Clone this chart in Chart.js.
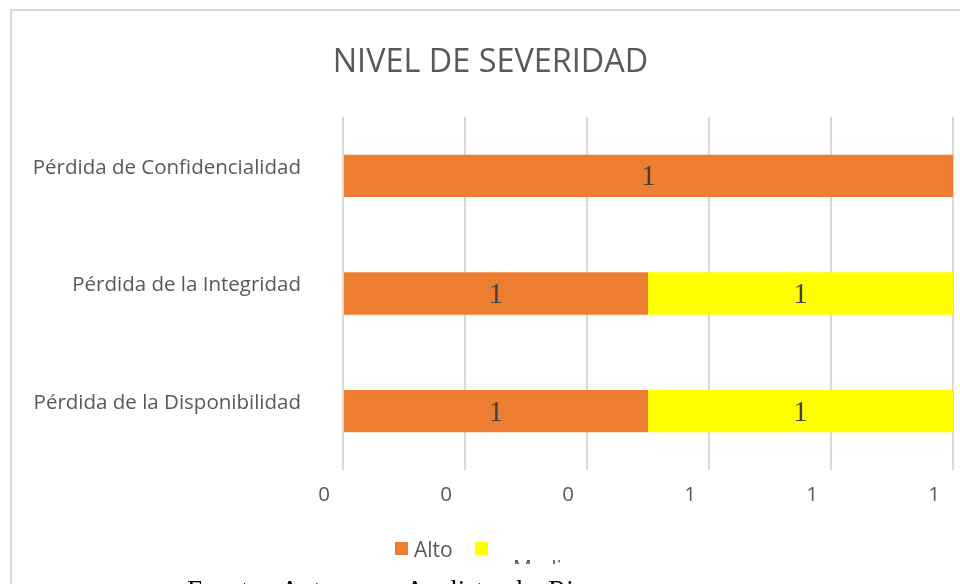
<!DOCTYPE html>
<html>
<head>
<meta charset="utf-8">
<script src="https://cdn.jsdelivr.net/npm/chart.js@4/dist/chart.umd.min.js"></script>
<style>
  html, body { margin: 0; padding: 0; width: 960px; height: 584px; overflow: hidden; background: #fff; }
  #wrap { position: absolute; left: 0; top: 0; width: 981px; height: 584px; }
  #frame { position: absolute; left: 10px; top: 9px; width: 960px; height: 600px; border-top: 2px solid #d9d9d9; border-left: 2px solid #d9d9d9; box-sizing: border-box; pointer-events: none; }
  .sw { position: absolute; width: 13px; height: 13px; }
  .lg { position: absolute; font-family: "Open Sans", sans-serif; font-size: 21px; color: #595959; line-height: 20px; white-space: nowrap; }
  #medioClip { position: absolute; left: 505px; top: 540px; width: 80px; height: 24px; overflow: hidden; }
  #fuente { position: absolute; left: 187px; top: 578px; font-family: "Liberation Serif", "Times New Roman", serif; font-size: 27px; line-height: 24px; word-spacing: 7px; color: #000; white-space: nowrap; }
</style>
</head>
<body>
<div id="wrap"><canvas id="c" width="981" height="584"></canvas></div>
<div id="frame"></div>
<div class="sw" style="left:395px; top:542px; background:#ED7D31;"></div>
<div class="lg" id="altoTxt" style="left:414px; top:539px;">Alto</div>
<div class="sw" style="left:475px; top:542px; background:#FFFF00;"></div>
<div id="medioClip"><div class="lg" style="left:8px; top:18px;">Medio</div></div>
<div id="fuente">Fuente: Autores – Analista de Riesgos</div>
<script>
const categories = ["Pérdida de Confidencialidad", "Pérdida de la Integridad", "Pérdida de la Disponibilidad"];
const seriesNames = ["Alto", "Medio"];
const altoValues = [1, 0.5, 0.5];
const medioValues = [0, 0.5, 0.5];
const xTickValues = [0, 0.2, 0.4, 0.6, 0.8, 1];

const valueLabels = {
  id: 'valueLabels',
  afterDatasetsDraw(chart) {
    const ctx = chart.ctx;
    ctx.save();
    ctx.font = '29px "Liberation Serif", "Times New Roman", serif';
    ctx.fillStyle = '#404040';
    ctx.textAlign = 'center';
    ctx.textBaseline = 'middle';
    chart.data.datasets.forEach((ds, di) => {
      const meta = chart.getDatasetMeta(di);
      meta.data.forEach((el, i) => {
        const v = ds.data[i];
        if (!v) return;
        const cx = (el.x + el.base) / 2;
        ctx.fillText(String(Math.round(v)), cx, el.y + 2);
      });
    });
    ctx.restore();
  }
};

new Chart(document.getElementById('c'), {
  type: 'bar',
  data: {
    labels: categories,
    datasets: [
      { label: seriesNames[0], data: altoValues, backgroundColor: '#ED7D31', borderWidth: 0, categoryPercentage: 1, barPercentage: 0.36 },
      { label: seriesNames[1], data: medioValues, backgroundColor: '#FFFF00', borderWidth: 0, categoryPercentage: 1, barPercentage: 0.36 }
    ]
  },
  options: {
    indexAxis: 'y',
    responsive: false,
    animation: false,
    layout: { padding: { left: 28, right: 28, top: 0, bottom: 54 } },
    plugins: {
      legend: { display: false },
      tooltip: { enabled: false },
      title: {
        display: true,
        text: 'NIVEL DE SEVERIDAD',
        color: '#595959',
        font: { family: '"Open Sans", sans-serif', size: 32.4, weight: 'normal' },
        padding: { top: 43, bottom: 35.1 }
      }
    },
    scales: {
      x: {
        stacked: true,
        min: 0, max: 1,
        afterBuildTicks(scale) { scale.ticks = xTickValues.map(v => ({ value: v })); },
        afterFit(scale) { scale.height = 60; },
        grid: { color: '#d9d9d9', lineWidth: 2, drawTicks: false },
        border: { display: false },
        ticks: {
          padding: 13,
          labelOffset: -19,
          color: '#595959',
          font: { family: '"Open Sans", sans-serif', size: 20.5 },
          callback: (v) => String(Math.round(v))
        }
      },
      y: {
        stacked: true,
        afterFit(scale) { scale.width = 315; },
        grid: { display: false, drawTicks: false },
        border: { display: false },
        ticks: {
          padding: 42,
          labelOffset: -8,
          color: '#595959',
          font: { family: '"Open Sans", sans-serif', size: 20.5 }
        }
      }
    }
  },
  plugins: [valueLabels]
});
</script>
</body>
</html>
